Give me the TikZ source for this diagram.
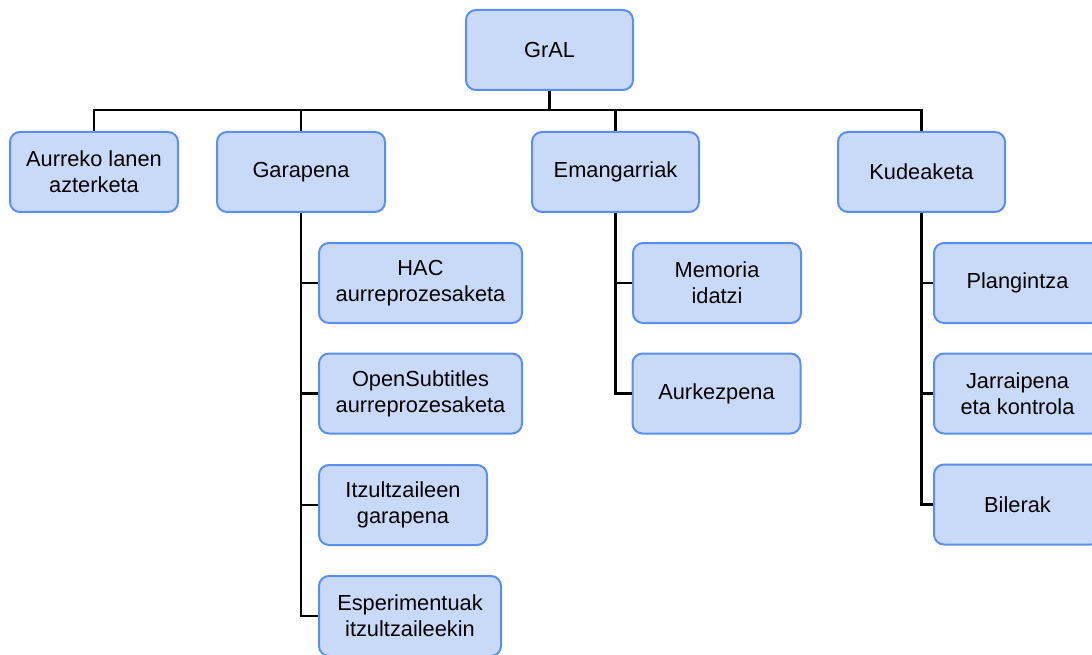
\documentclass[tikz,border=0pt]{standalone}
\usepackage{fontspec}
\setmainfont{Liberation Sans}
\definecolor{boxfill}{HTML}{C9DAF8}
\definecolor{boxline}{HTML}{5B8FEE}

\begin{document}
\begin{tikzpicture}[x=1pt, y=-1pt,
	task/.style={draw=boxline, fill=boxfill, line width=2pt, rounded corners=10pt, minimum height=80pt, inner sep=0pt, align=center, font=\fontsize{21.8}{26}\selectfont},
	link/.style={line width=2.2pt, black}]
	\useasboundingbox (0,0) rectangle (1092,655);
	\clip (0,0) rectangle (1092,655);
	\node[task, minimum width=167pt] (gral) at (549.5,50) {GrAL};
	\node[task, minimum width=168pt] (aurreko) at (94,172) {Aurreko lanen\\azterketa};
	\node[task, minimum width=168pt] (garapena) at (301,172) {Garapena};
	\node[task, minimum width=167pt] (emangarriak) at (615.5,172) {Emangarriak};
	\node[task, minimum width=167pt] (kudeaketa) at (921.5,172) {Kudeaketa};
	\node[task, minimum width=203pt] (hac) at (420.5,283) {HAC\\aurreprozesaketa};
	\node[task, minimum width=203pt] (opensub) at (420.5,393.5) {OpenSubtitles\\aurreprozesaketa};
	\node[task, minimum width=168pt] (itzul) at (403,505) {Itzultzaileen\\garapena};
	\node[task, minimum width=182pt] (esper) at (410,616) {Esperimentuak\\itzultzaileekin};
	\node[task, minimum width=168pt] (memoria) at (717,283) {Memoria\\idatzi};
	\node[task, minimum width=168pt] (aurkez) at (716.5,393.5) {Aurkezpena};
	\node[task, minimum width=167pt] (plang) at (1017.5,283) {Plangintza};
	\node[task, minimum width=167pt] (jarrai) at (1017.5,393.5) {Jarraipena\\eta kontrola};
	\node[task, minimum width=167pt] (bilerak) at (1017.5,504.5) {Bilerak};
	\coordinate (bar) at (549.5,110);
	\draw[link] (gral) -- (bar);
	\draw[link] (aurreko) |- (bar);
	\draw[link] (garapena) |- (bar);
	\draw[link] (emangarriak) |- (bar);
	\draw[link] (kudeaketa) |- (bar);
	\draw[link] (garapena.south) |- (hac.west);
	\draw[link] (garapena.south) |- (opensub.west);
	\draw[link] (garapena.south) |- (itzul.west);
	\draw[link] (garapena.south) |- (esper.west);
	\draw[link] (emangarriak.south) |- (memoria.west);
	\draw[link] (emangarriak.south) |- (aurkez.west);
	\draw[link] (kudeaketa.south) |- (plang.west);
	\draw[link] (kudeaketa.south) |- (jarrai.west);
	\draw[link] (kudeaketa.south) |- (bilerak.west);
\end{tikzpicture}
\end{document}
